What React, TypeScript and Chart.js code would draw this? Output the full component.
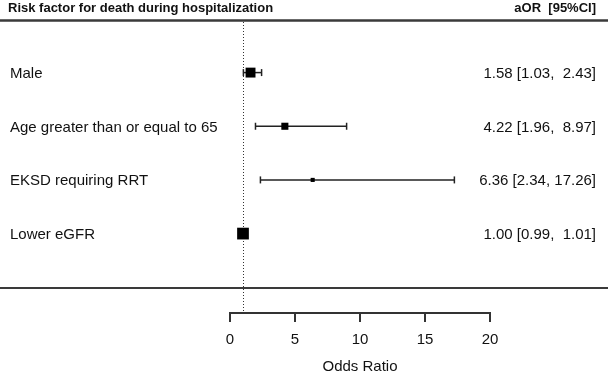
import React, { useEffect, useRef } from "react";
import { Chart, registerables } from "chart.js";

Chart.register(...registerables);

const headerLeft = "Risk factor for death during hospitalization";
const headerRight = "aOR  [95%CI]";
const factors = ["Male", "Age greater than or equal to 65", "EKSD requiring RRT", "Lower eGFR"];
const oddsRatios = [1.58, 4.22, 6.36, 1.0];
const ciLower = [1.03, 1.96, 2.34, 0.99];
const ciUpper = [2.43, 8.97, 17.26, 1.01];
const xTicks = [0, 5, 10, 15, 20];
const xTitle = "Odds Ratio";
const refValue = 1;

const FONT = "'Liberation Sans', Arial, Helvetica, sans-serif";
const INK = "#111";

function fmtRow(i: number): string {
  const hi = ciUpper[i].toFixed(2);
  const pad = " ".repeat(Math.max(1, 6 - hi.length));
  return `${oddsRatios[i].toFixed(2)} [${ciLower[i].toFixed(2)},${pad}${hi}]`;
}

const forestPlugin = {
  id: "forestDecor",
  beforeDraw(chart: any) {
    const { ctx, width, height } = chart;
    ctx.save();
    ctx.fillStyle = "#fff";
    ctx.fillRect(0, 0, width, height);
    ctx.restore();
  },
  beforeDatasetsDraw(chart: any) {
    const { ctx, width, scales } = chart;
    const x = scales.x;
    const area = chart.chartArea;
    ctx.save();
    // header rule
    ctx.strokeStyle = "#3a3a3a";
    ctx.lineWidth = 2.5;
    ctx.beginPath();
    ctx.moveTo(0, 20.5);
    ctx.lineTo(width, 20.5);
    ctx.stroke();
    // bottom rule
    ctx.lineWidth = 2;
    ctx.beginPath();
    ctx.moveTo(0, 288);
    ctx.lineTo(width, 288);
    ctx.stroke();
    // reference dotted line
    const rx = Math.round(x.getPixelForValue(refValue)) + 0.5;
    ctx.strokeStyle = "#333";
    ctx.lineWidth = 1;
    ctx.setLineDash([1, 2]);
    ctx.beginPath();
    ctx.moveTo(rx, 22);
    ctx.lineTo(rx, area.bottom);
    ctx.stroke();
    ctx.setLineDash([]);

    // header texts
    ctx.fillStyle = INK;
    ctx.font = `bold 13px ${FONT}`;
    ctx.textBaseline = "alphabetic";
    ctx.textAlign = "left";
    ctx.fillText(headerLeft, 8, 11.5);
    ctx.textAlign = "right";
    ctx.fillText(headerRight, 596, 11.5);

    // row texts
    const y = scales.y;
    ctx.font = `15px ${FONT}`;
    factors.forEach((name, i) => {
      const py = y.getPixelForValue(i + 1) + 5.5;
      ctx.textAlign = "left";
      ctx.fillText(name, 10, py);
      ctx.textAlign = "right";
      ctx.fillText(fmtRow(i), 596, py);
    });
    ctx.restore();
  },
};

export default function App() {
  const ref = useRef<HTMLCanvasElement | null>(null);
  useEffect(() => {
    if (!ref.current) return;
    const squares = {
      type: "scatter",
      data: oddsRatios.map((v, i) => ({ x: v, y: i + 1 })),
      pointStyle: "rect",
      pointRadius: [7, 5, 2.9, 8.3],
      pointBackgroundColor: "#000",
      pointBorderColor: "#000",
      pointBorderWidth: 0,
      showLine: false,
    };
    const ciSets = oddsRatios.map((_, i) => ({
      type: "line",
      data: [
        { x: ciLower[i], y: i + 1 },
        { x: ciUpper[i], y: i + 1 },
      ],
      borderColor: "#222",
      borderWidth: 1.5,
      pointStyle: "line",
      rotation: 90,
      pointRadius: 3.5,
      pointBorderColor: "#222",
      pointBorderWidth: 1.5,
      fill: false,
    }));
    const chart = new Chart(ref.current, {
      type: "scatter",
      data: { datasets: [squares, ...ciSets] as any },
      options: {
        responsive: false,
        animation: false,
        events: [],
        layout: { padding: { left: 230, right: 118, top: 20, bottom: 0 } },
        plugins: { legend: { display: false }, tooltip: { enabled: false }, title: { display: false } },
        scales: {
          x: {
            type: "linear",
            min: xTicks[0],
            max: xTicks[xTicks.length - 1],
            afterFit: (s: any) => {
              s.height = 63;
            },
            afterBuildTicks: (s: any) => {
              s.ticks = xTicks.map((v) => ({ value: v }));
            },
            border: { display: true, color: "#333", width: 2 },
            grid: { display: true, drawOnChartArea: false, drawTicks: true, tickLength: 9, color: "#333", lineWidth: 2 },
            ticks: { color: INK, font: { family: FONT, size: 15 }, padding: 9, maxRotation: 0 },
            title: { display: true, text: xTitle, color: INK, font: { family: FONT, size: 15 }, padding: { top: 0, bottom: 0 } },
          },
          y: {
            type: "linear",
            display: false,
            reverse: true,
            min: 0.02,
            max: 5.48,
          },
        },
      },
      plugins: [forestPlugin],
    } as any);
    return () => chart.destroy();
  }, []);
  return (
    <div style={{ position: "fixed", left: 0, top: 0, width: 608, height: 376, background: "#fff" }}>
      <canvas ref={ref} width={608} height={376} />
    </div>
  );
}
